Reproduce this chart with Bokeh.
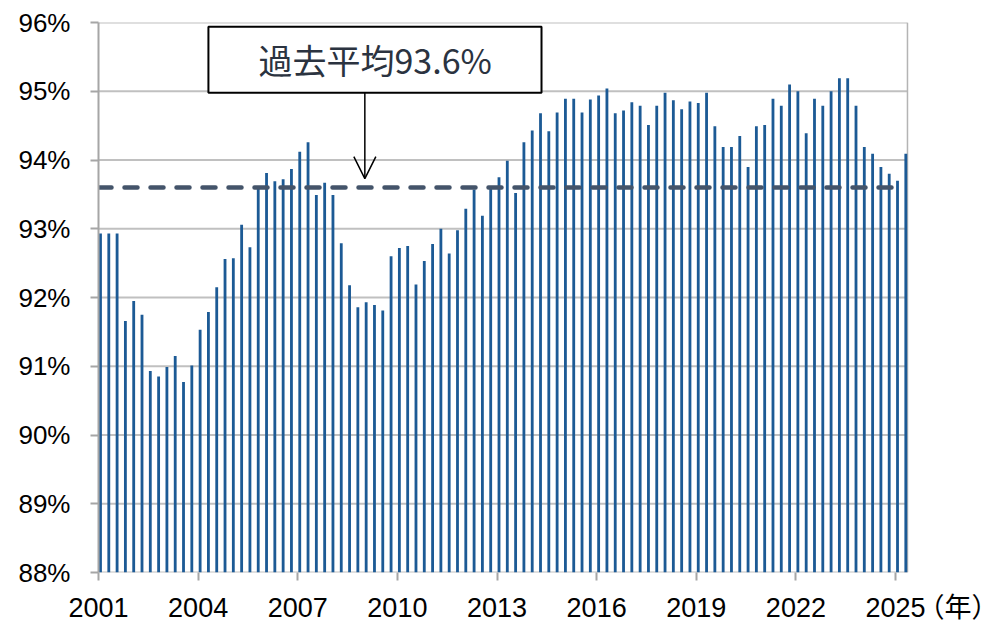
from bokeh.plotting import figure
from bokeh.models import (FixedTicker, PrintfTickFormatter, Range1d, Label, Arrow,
                          OpenHead, BoxAnnotation, ColumnDataSource, LinearAxis)
from bokeh.embed import file_html
from bokeh.resources import INLINE

# ---- data (quarterly, 2001Q1 - 2025Q2) ----
years = [y for y in range(2001, 2026) for _ in range(4)][:98]
quarters = [q for _ in range(2001, 2026) for q in range(1, 5)][:98]
values = [
    92.93, 92.93, 92.93, 91.66,   # 2001
    91.95, 91.75, 90.93, 90.85,   # 2002
    90.99, 91.15, 90.77, 91.01,   # 2003
    91.53, 91.79, 92.15, 92.56,   # 2004
    92.57, 93.06, 92.73, 93.58,   # 2005
    93.81, 93.69, 93.72, 93.87,   # 2006
    94.12, 94.26, 93.49, 93.67,   # 2007
    93.49, 92.79, 92.18, 91.86,   # 2008
    91.93, 91.89, 91.81, 92.60,   # 2009
    92.72, 92.75, 92.19, 92.53,   # 2010
    92.78, 93.00, 92.64, 92.98,   # 2011
    93.29, 93.57, 93.19, 93.58,   # 2012
    93.75, 93.99, 93.52, 94.26,   # 2013
    94.43, 94.68, 94.42, 94.69,   # 2014
    94.89, 94.89, 94.69, 94.88,   # 2015
    94.94, 95.04, 94.68, 94.72,   # 2016
    94.84, 94.79, 94.51, 94.79,   # 2017
    94.98, 94.87, 94.74, 94.85,   # 2018
    94.83, 94.98, 94.49, 94.19,   # 2019
    94.19, 94.35, 93.90, 94.49,   # 2020
    94.51, 94.89, 94.79, 95.10,   # 2021
    95.00, 94.39, 94.89, 94.79,   # 2022
    95.00, 95.19, 95.19, 94.79,   # 2023
    94.19, 94.09, 93.90, 93.80,   # 2024
    93.70, 94.09,                 # 2025
]
average = 93.6
avg_label = "過去平均93.6%"
x_ticks = [2001, 2004, 2007, 2010, 2013, 2016, 2019, 2022, 2025]
y_ticks = [88, 89, 90, 91, 92, 93, 94, 95, 96]
unit_label = "（年）"

X0, X_AXIS_END, X_FRAME_END = 2001, 2025.36, 2027.86
UNIT_POS = 2026.95

xpos = [y + (q - 1) * 0.25 + 0.06 for y, q in zip(years, quarters)]
src = ColumnDataSource(dict(x=xpos, top=values))

p = figure(frame_width=892, frame_height=550,
           min_border_left=98, min_border_right=8,
           min_border_top=22, min_border_bottom=50,
           x_range=Range1d(X0, X_FRAME_END), y_range=Range1d(88, 96),
           x_axis_location=None,
           output_backend="svg", toolbar_location=None,
           background_fill_color="white", border_fill_color="white")
p.outline_line_color = None
p.xgrid.visible = False
p.ygrid.visible = False

GRID = "#c0c0c0"
# horizontal gridlines and bottom axis line
p.segment(x0=[X0] * len(y_ticks), x1=[X_AXIS_END] * len(y_ticks),
          y0=y_ticks, y1=y_ticks, line_color=GRID, line_width=2)
# right border of plot area
p.segment(x0=[X_AXIS_END], x1=[X_AXIS_END], y0=[88], y1=[96],
          line_color="#b4b4b4", line_width=1.5)

p.vbar(x="x", top="top", bottom=88, width=0.085, source=src,
       fill_color="#1c5a95", line_color=None)

p.line([X0, 2025.15], [average, average], line_color="#44546a",
       line_width=4.5, line_dash="13 13", line_cap="round")

# y axis
ya = p.yaxis[0]
ya.ticker = FixedTicker(ticks=y_ticks)
ya.formatter = PrintfTickFormatter(format="%d%%")
ya.axis_line_color = "#a6a6a6"
ya.axis_line_width = 2
ya.major_tick_line_color = "#a6a6a6"
ya.major_tick_line_width = 2
ya.major_tick_out = 8
ya.major_tick_in = 0
ya.minor_tick_line_color = None
ya.major_label_text_font = "Liberation Sans"
ya.major_label_text_font_size = "26px"
ya.major_label_text_color = "#000000"
ya.major_label_standoff = 20

# x axis: tick marks only
xa1 = LinearAxis(ticker=FixedTicker(ticks=x_ticks), axis_line_color=None,
                 major_tick_line_color="#a6a6a6", major_tick_line_width=2,
                 major_tick_out=8, major_tick_in=0, minor_tick_line_color=None,
                 major_label_text_font_size="0px", major_label_standoff=0,
                 major_label_overrides={t: "" for t in x_ticks})
p.add_layout(xa1, "below")
# x axis: labels (years + unit)
labels = {t: str(t) for t in x_ticks}
labels[UNIT_POS] = unit_label
xa2 = LinearAxis(ticker=FixedTicker(ticks=x_ticks + [UNIT_POS]), axis_line_color=None,
                 major_tick_line_color=None, major_tick_out=0, major_tick_in=0,
                 minor_tick_line_color=None,
                 major_label_text_font="Liberation Sans, Noto Sans CJK JP",
                 major_label_text_font_size="27px", major_label_text_color="#000000",
                 major_label_standoff=12, major_label_overrides=labels)
p.add_layout(xa2, "below")

# annotation box
p.add_layout(BoxAnnotation(left=2004.31, right=2014.34, bottom=94.98, top=95.94,
                           fill_color="white", fill_alpha=1.0,
                           line_color="black", line_alpha=1.0, line_width=2))
p.add_layout(Label(x=2009.33, y=95.46, text=avg_label, text_align="center",
                   text_baseline="middle", text_font="Noto Sans CJK JP",
                   text_font_size="34px", text_color="#2b3340"))
p.add_layout(Arrow(x_start=2009.02, y_start=94.98, x_end=2009.02, y_end=93.73,
                   line_color="black", line_width=1.5,
                   end=OpenHead(size=22, line_color="black", line_width=1.5)))

open("out.html", "w").write(file_html(p, INLINE))
